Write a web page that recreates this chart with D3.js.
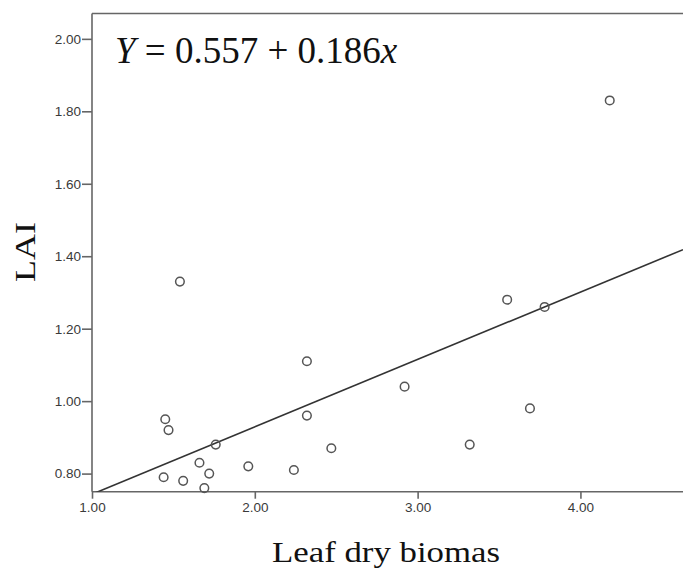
<!DOCTYPE html>
<html lang="en">
<head>
    <meta charset="UTF-8">
    <title>LAI vs Leaf dry biomass</title>
    <script src="https://d3js.org/d3.v7.min.js"></script>
    <style>
        body { margin: 0; background: #fff; }
        .tick text { font-family: "Liberation Sans", Arial, sans-serif; font-size: 13.5px; fill: #3a3a3a; }
    </style>
</head>
<body>
    <svg width="683" height="569"></svg>
    <script>
        // Scatter data
        const leafBiomass = [1.54, 1.45, 1.47, 1.76, 1.66, 1.44, 1.56, 1.72, 1.69, 1.96, 2.24,
                             2.32, 2.32, 2.47, 2.92, 3.32, 3.55, 3.78, 3.69, 4.18];
        const laiValues   = [1.33, 0.95, 0.92, 0.88, 0.83, 0.79, 0.78, 0.80, 0.76, 0.82, 0.81,
                             1.11, 0.96, 0.87, 1.04, 0.88, 1.28, 1.26, 0.98, 1.83];
        const xTicks = [1, 2, 3, 4];
        const yTicks = [0.8, 1.0, 1.2, 1.4, 1.6, 1.8, 2.0];
        const intercept = 0.557;
        const slope = 0.186;

        const svgWidth = 683;
        const svgHeight = 569;
        const svg = d3.select("svg")
            .attr("width", svgWidth)
            .attr("height", svgHeight);

        // plot area
        const plot = { left: 92, right: 683, top: 13.5, bottom: 491.7 };

        const x = d3.scaleLinear().domain([1, 4.63]).range([plot.left, plot.right]);
        const y = d3.scaleLinear().domain([0.75, 2.07]).range([plot.bottom, plot.top]);

        svg.append("defs").append("clipPath")
            .attr("id", "plot-clip")
            .append("rect")
            .attr("x", plot.left).attr("y", plot.top)
            .attr("width", plot.right - plot.left).attr("height", plot.bottom - plot.top);

        // top frame line
        svg.append("line")
            .attr("x1", plot.left).attr("x2", plot.right)
            .attr("y1", plot.top).attr("y2", plot.top)
            .attr("stroke", "#666").attr("stroke-width", 1.6);

        // axes
        const xAxis = d3.axisBottom(x).tickValues(xTicks).tickFormat(d3.format(".2f"))
            .tickSize(7).tickSizeOuter(0).tickPadding(4);
        const yAxis = d3.axisLeft(y).tickValues(yTicks).tickFormat(d3.format(".2f"))
            .tickSize(10).tickSizeOuter(0).tickPadding(1);

        const gx = svg.append("g")
            .attr("transform", `translate(0,${plot.bottom})`)
            .call(xAxis);
        const gy = svg.append("g")
            .attr("transform", `translate(${plot.left},0)`)
            .call(yAxis);

        [gx, gy].forEach(g => {
            g.select(".domain").attr("stroke", "#666").attr("stroke-width", 1.6);
            g.selectAll(".tick line").attr("stroke", "#666").attr("stroke-width", 1.6);
        });
        gx.select(".domain").attr("d", `M${plot.left},0H${plot.right}`);
        gy.select(".domain").attr("d", `M0,${plot.top}V${plot.bottom}`);

        // regression line
        const xs = x.domain();
        svg.append("line")
            .attr("clip-path", "url(#plot-clip)")
            .attr("x1", x(xs[0])).attr("y1", y(intercept + slope * xs[0]))
            .attr("x2", x(xs[1])).attr("y2", y(intercept + slope * xs[1]))
            .attr("stroke", "#333").attr("stroke-width", 1.6);

        // points
        svg.append("g")
            .selectAll("circle")
            .data(leafBiomass.map((d, i) => [d, laiValues[i]]))
            .enter()
            .append("circle")
            .attr("cx", d => x(d[0]))
            .attr("cy", d => y(d[1]))
            .attr("r", 4.3)
            .attr("fill", "none")
            .attr("stroke", "#555")
            .attr("stroke-width", 1.5);

        // equation
        const eq = svg.append("text")
            .attr("x", 115).attr("y", 63)
            .attr("font-family", "'Liberation Serif', 'Times New Roman', serif")
            .attr("font-size", 37)
            .attr("fill", "#111");
        eq.append("tspan").attr("font-style", "italic").text("Y");
        eq.append("tspan").text(" = 0.557 + 0.186");
        eq.append("tspan").attr("font-style", "italic").text("x");

        // axis titles (text in the source is a bit stretched along its length)
        svg.append("text")
            .attr("transform", "translate(386,562) scale(1.16,1)")
            .attr("text-anchor", "middle")
            .attr("font-family", "'Liberation Serif', 'Times New Roman', serif")
            .attr("font-size", 30)
            .attr("fill", "#111")
            .text("Leaf dry biomas");

        svg.append("text")
            .attr("transform", "translate(35,252) rotate(-90) scale(1.2,1)")
            .attr("text-anchor", "middle")
            .attr("font-family", "'Liberation Serif', 'Times New Roman', serif")
            .attr("font-size", 30)
            .attr("fill", "#111")
            .text("LAI");
    </script>
</body>
</html>
